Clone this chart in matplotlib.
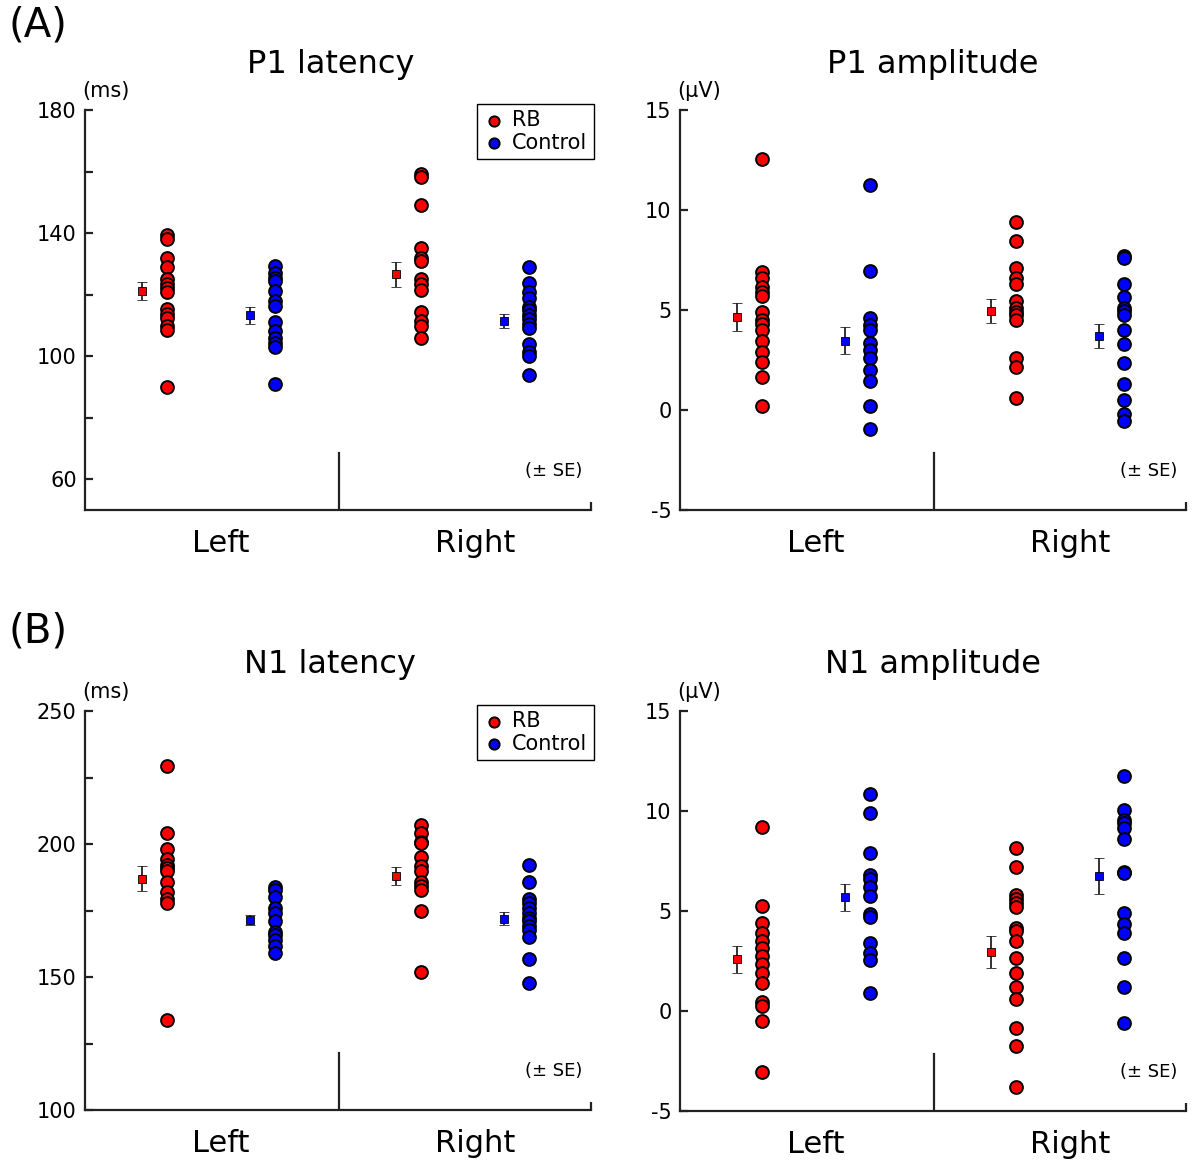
import matplotlib
matplotlib.use("Agg")
import matplotlib.pyplot as plt

plt.rcParams['axes.unicode_minus'] = False

# values
sides = ['Left', 'Right']

# P1 latency (ms)
p1lat_rb_left = [139.4, 138, 132, 129, 125, 123.4, 122.3, 121, 115.2, 113.8, 112.5, 109.8, 108.4, 90]
p1lat_ctrl_left = [129.3, 127.1, 125.5, 124.4, 121.2, 118, 116.3, 111.1, 108.2, 106, 104.4, 103, 91]
p1lat_rb_right = [159.2, 158.2, 149, 135.2, 132, 130.9, 125, 123.4, 121.4, 114.2, 111.5, 109.8, 106]
p1lat_ctrl_right = [129, 123.9, 120.9, 119, 116, 114.9, 113.4, 112, 110.6, 109.1, 103.9, 101.2, 100.1, 94]
p1lat_mean = [121.2, 113.3, 126.6, 111.5]   # RB L, Ctrl L, RB R, Ctrl R
p1lat_se = [3.0, 2.7, 4.1, 2.2]

# P1 amplitude (uV)
p1amp_rb_left = [12.56, 6.88, 6.58, 6.13, 5.91, 5.68, 4.91, 4.49, 4.32, 4.01, 3.46, 2.92, 2.42, 1.67, 0.2]
p1amp_ctrl_left = [11.26, 6.96, 4.62, 4.26, 3.99, 3.37, 3.0, 2.62, 1.99, 1.45, 0.2, -0.94]
p1amp_rb_right = [9.42, 8.47, 7.1, 6.6, 6.3, 5.46, 5.09, 4.9, 4.76, 4.49, 2.62, 2.17, 0.62]
p1amp_ctrl_right = [7.68, 7.58, 6.3, 5.63, 5.09, 4.93, 4.74, 3.99, 3.29, 2.37, 1.29, 0.49, -0.18, -0.55]
p1amp_mean = [4.66, 3.46, 4.96, 3.69]
p1amp_se = [0.70, 0.67, 0.60, 0.61]

# N1 latency (ms)
n1lat_rb_left = [229.3, 204, 198, 194.3, 192.1, 190.9, 189.9, 185.9, 181.9, 179.2, 177.7, 134]
n1lat_ctrl_left = [184, 182.7, 180, 175.9, 174, 170.9, 167.1, 165.9, 164, 161.5, 159]
n1lat_rb_right = [207.1, 204, 200.9, 200.3, 195, 191.7, 190, 185.9, 184.2, 182.7, 175, 151.9]
n1lat_ctrl_right = [192.1, 185.9, 179.2, 177.7, 176, 174, 172, 170.9, 169, 167.7, 165, 156.9, 147.8]
n1lat_mean = [186.9, 171.5, 188.0, 171.9]
n1lat_se = [4.7, 1.9, 3.3, 2.5]

# N1 amplitude (uV)
n1amp_rb_left = [9.22, 5.27, 4.42, 3.88, 3.5, 3.13, 2.75, 2.33, 1.92, 1.38, 0.47, 0.25, -0.5, -3.07]
n1amp_ctrl_left = [10.85, 9.88, 7.92, 6.8, 6.58, 6.22, 5.77, 4.85, 4.68, 3.38, 2.92, 2.55, 0.92]
n1amp_rb_right = [8.13, 7.22, 5.8, 5.58, 5.42, 5.22, 4.13, 4.02, 3.52, 2.67, 1.88, 1.22, 0.58, -0.83, -1.73, -3.78]
n1amp_ctrl_right = [11.75, 10.05, 9.55, 9.38, 9.17, 8.6, 6.97, 6.88, 4.92, 4.35, 3.88, 2.67, 1.22, -0.62]
n1amp_mean = [2.58, 5.68, 2.97, 6.75]
n1amp_se = [0.68, 0.66, 0.80, 0.88]

W, H = 1198, 1164
fig = plt.figure(figsize=(W / 100, H / 100), dpi=100)


def rect(x, y, w, h):
    return [x / W, 1 - (y + h) / H, w / W, h / H]


def panel(ax, groups, means, ses, ylim, major, minor, unit, title, tx, legend):
    centers = [1, 3]
    k = 0
    for c, (rb, ctrl) in zip(centers, groups):
        h_rb = ax.scatter([c - 0.425] * len(rb), rb, s=85, c='#ff0000',
                          edgecolors='black', linewidths=1.4, zorder=3, label='RB')
        h_c = ax.scatter([c + 0.425] * len(ctrl), ctrl, s=85, c='#0000ff',
                         edgecolors='black', linewidths=1.4, zorder=3, label='Control')
        for dx, col in ((-0.62, '#ff0000'), (0.23, '#0000ff')):
            ax.errorbar(c + dx, means[k], yerr=ses[k], fmt='s', ms=6, mfc=col,
                        mec='black', mew=0.6, ecolor='#222222', elinewidth=1.3,
                        capsize=3.8, capthick=1.3, zorder=4)
            k += 1

    ax.set_xlim(-0.07, 3.915)
    ax.set_ylim(*ylim)
    ax.axvline(1.93, ymin=0, ymax=0.1425, color='#222222', lw=1.6)

    for s in ('top', 'right'):
        ax.spines[s].set_visible(False)
    for s in ('left', 'bottom'):
        ax.spines[s].set_linewidth(1.6)
        ax.spines[s].set_color('#222222')

    ax.set_yticks(major)
    ax.set_yticks(minor, minor=True)
    ax.set_xticks(centers)
    ax.set_xticklabels(sides)
    ax.set_xticks([3.915], minor=True)
    ax.tick_params(axis='y', which='both', direction='in', length=6, width=1.6,
                   color='#222222', labelsize=15, pad=6)
    ax.tick_params(axis='x', which='major', length=0, labelsize=22, pad=14)
    ax.tick_params(axis='x', which='minor', direction='in', length=6, width=1.6,
                   color='#222222')

    ax.text(-0.006, 1.022, unit, transform=ax.transAxes, ha='left', va='bottom',
            fontsize=15)
    ax.text(0.982, 0.098, '(\u00b1 SE)', transform=ax.transAxes, ha='right',
            va='center', fontsize=13)
    ax.set_title(title, fontsize=23, pad=27, x=tx)

    if legend:
        ax.legend(handles=[h_rb, h_c], loc='upper right', bbox_to_anchor=(1.005, 1.015),
                  fancybox=False, edgecolor='black', framealpha=1, fontsize=15,
                  handletextpad=0.3, borderpad=0.3, labelspacing=0.12,
                  handlelength=1.1, markerscale=0.8, borderaxespad=0)
        ax.get_legend().get_frame().set_linewidth(1.0)


ax1 = fig.add_axes(rect(85, 110, 506, 400))
panel(ax1, [(p1lat_rb_left, p1lat_ctrl_left), (p1lat_rb_right, p1lat_ctrl_right)],
      p1lat_mean, p1lat_se, (50, 180), [60, 100, 140, 180], [80, 120, 160],
      '(ms)', 'P1 latency', 0.485, True)

ax2 = fig.add_axes(rect(680, 110, 506, 400))
panel(ax2, [(p1amp_rb_left, p1amp_ctrl_left), (p1amp_rb_right, p1amp_ctrl_right)],
      p1amp_mean, p1amp_se, (-5, 15), [-5, 0, 5, 10, 15], [],
      '(\u03bcV)', 'P1 amplitude', 0.5, False)

ax3 = fig.add_axes(rect(85, 711, 506, 399))
panel(ax3, [(n1lat_rb_left, n1lat_ctrl_left), (n1lat_rb_right, n1lat_ctrl_right)],
      n1lat_mean, n1lat_se, (100, 250), [100, 150, 200, 250], [125, 175, 225],
      '(ms)', 'N1 latency', 0.485, True)

ax4 = fig.add_axes(rect(680, 711, 506, 400))
panel(ax4, [(n1amp_rb_left, n1amp_ctrl_left), (n1amp_rb_right, n1amp_ctrl_right)],
      n1amp_mean, n1amp_se, (-5, 15), [-5, 0, 5, 10, 15], [],
      '(\u03bcV)', 'N1 amplitude', 0.5, False)

fig.text(8 / W, 1 - 6 / H, '(A)', ha='left', va='top', fontsize=29)
fig.text(8 / W, 1 - 611 / H, '(B)', ha='left', va='top', fontsize=29)

fig.savefig('out.png', dpi=100)
